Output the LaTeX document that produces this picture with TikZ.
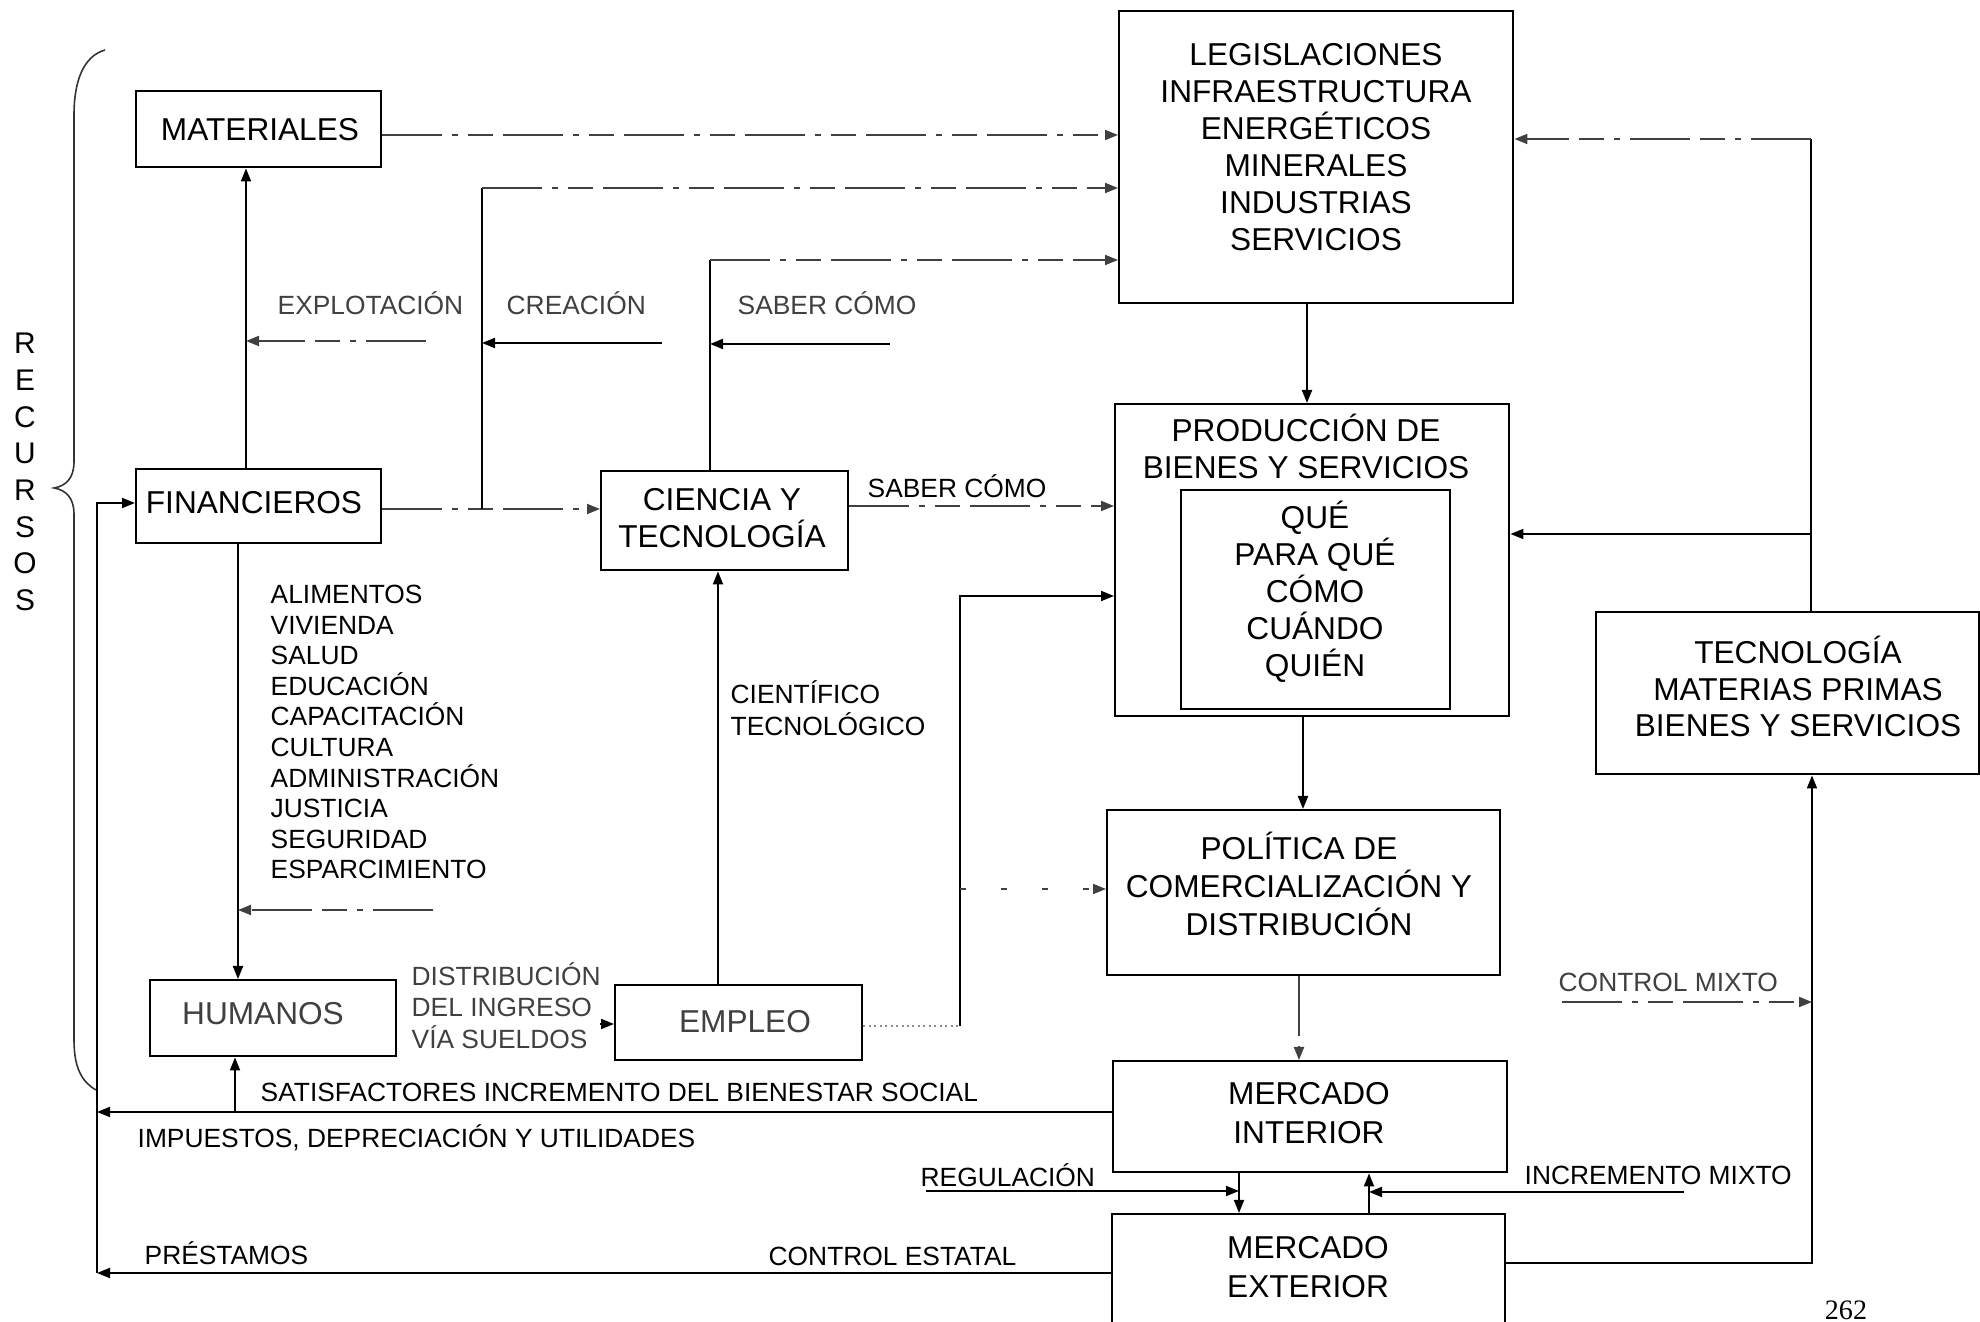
\documentclass[tikz,border=0pt]{standalone}
\usepackage{fontspec}
\setmainfont{Liberation Sans}
\newfontfamily\pagenumfont{Liberation Serif}
\usetikzlibrary{arrows.meta}
\begin{document}
\begin{tikzpicture}[x=0.1mm,y=-0.1mm,
  box/.style={draw, line width=0.7pt, inner sep=0pt, anchor=north west},
  btxt/.style={inner sep=0pt, align=center, font={\fontsize{9}{10.5}\selectfont}},
  lbl/.style={inner sep=0pt, anchor=west, font={\fontsize{7.5}{8.7}\selectfont}},
  lst/.style={inner sep=0pt, anchor=north west, align=left, font={\fontsize{7.5}{8.7}\selectfont}},
  ln/.style={draw, line width=0.55pt},
  arr/.style={ln, -{Triangle[length=1.3mm,width=1mm]}},
  fd/.style={draw=black!75, dash pattern=on 6mm off 1mm on 0.6mm off 1mm on 2.5mm off 1mm},
  dim/.style={text=black!75},
]
\useasboundingbox (0,0) rectangle (1980,1322);
\fill[white] (0,0) rectangle (1980,1322);
\clip (0,0) rectangle (1980,1322);

% ---------- boxes ----------
\node[box, minimum width=24.5mm, minimum height=7.6mm] (mat) at (135,90) {};
\node[box, minimum width=24.5mm, minimum height=7.4mm] (fin) at (135,468) {};
\node[box, minimum width=24.7mm, minimum height=9.9mm] (cyt) at (600,470) {};
\node[box, minimum width=39.4mm, minimum height=29.2mm] (leg) at (1118,10) {};
\node[box, minimum width=39.4mm, minimum height=31.2mm] (prod) at (1114,403) {};
\node[box, minimum width=26.9mm, minimum height=21.9mm] (qbox) at (1180,489) {};
\node[box, minimum width=39.3mm, minimum height=16.5mm] (pol) at (1106,809) {};
\node[box, minimum width=38.3mm, minimum height=16.2mm] (tec) at (1595,611) {};
\node[box, minimum width=39.4mm, minimum height=11.1mm] (mint) at (1112,1060) {};
\node[box, minimum width=39.3mm, minimum height=14mm] (mext) at (1111,1213) {};
\node[box, minimum width=24.6mm, minimum height=7.6mm] (hum) at (149,979) {};
\node[box, minimum width=24.7mm, minimum height=7.5mm] (emp) at (614,984) {};

% ---------- box texts ----------
\node[btxt] (tmat) at (260,130) {MATERIALES};
\node[btxt] (tfin) at (254,503) {FINANCIEROS};
\node[btxt] (tcyt) at (722,518) {CIENCIA Y\\TECNOLOGÍA};
\node[btxt] (tleg) at (1316,147) {LEGISLACIONES\\INFRAESTRUCTURA\\ENERGÉTICOS\\MINERALES\\INDUSTRIAS\\SERVICIOS};
\node[btxt] (tprod) at (1306,446.5) {PRODUCCIÓN DE\\BIENES Y SERVICIOS};
\node[btxt] (tq) at (1315,592) {QUÉ\\PARA QUÉ\\CÓMO\\CUÁNDO\\QUIÉN};
\node[btxt, font={\fontsize{9}{10.8}\selectfont}] (tpol) at (1299,884) {POLÍTICA DE\\COMERCIALIZACIÓN Y\\DISTRIBUCIÓN};
\node[btxt, font={\fontsize{9}{10.4}\selectfont}] (ttec) at (1798,686.5) {TECNOLOGÍA\\MATERIAS PRIMAS\\BIENES Y SERVICIOS};
\node[btxt, font={\fontsize{9}{11.1}\selectfont}] (tmint) at (1309,1113.5) {MERCADO\\INTERIOR};
\node[btxt, font={\fontsize{9}{11.1}\selectfont}] (tmext) at (1308,1267.5) {MERCADO\\EXTERIOR};
\node[btxt, dim] (thum) at (263,1014) {HUMANOS};
\node[btxt, dim] (temp) at (745,1022) {EMPLEO};

% ---------- RECURSOS and brace ----------
\node[inner sep=0pt, align=center, font={\fontsize{8.5}{10.45}\selectfont}] (rec) at (25,472) {R\\E\\C\\U\\R\\S\\O\\S};
\draw[line width=0.45pt, black!80] (105,50) .. controls (84,56) and (74,80) .. (74,115) -- (74,462)
  .. controls (74,478) and (66,486) .. (54,488) .. controls (66,490) and (74,498) .. (74,514)
  -- (74,1040) .. controls (74,1068) and (82,1082) .. (96,1090);

% ---------- labels ----------
\node[lbl,dim] (lexp) at (277,303) {EXPLOTACIÓN};
\node[lbl,dim] (lcre) at (506,303) {CREACIÓN};
\node[lbl,dim] (lsab1) at (737,303) {SABER CÓMO};
\node[lbl] (lsab2) at (867,486) {SABER CÓMO};
\node[lst] (lali) at (270,584.5) {ALIMENTOS\\VIVIENDA\\SALUD\\EDUCACIÓN\\CAPACITACIÓN\\CULTURA\\ADMINISTRACIÓN\\JUSTICIA\\SEGURIDAD\\ESPARCIMIENTO};
\node[lbl, align=left, font={\fontsize{7.5}{9.1}\selectfont}] (lcie) at (730,708) {CIENTÍFICO\\TECNOLÓGICO};
\node[lbl, dim, align=left, font={\fontsize{7.5}{8.96}\selectfont}] (ldis) at (411,1005.5) {DISTRIBUCIÓN\\DEL INGRESO\\VÍA SUELDOS};
\node[lbl] (lsat) at (260,1092) {SATISFACTORES INCREMENTO DEL BIENESTAR SOCIAL};
\node[lbl] (limp) at (137,1138) {IMPUESTOS, DEPRECIACIÓN Y UTILIDADES};
\node[lbl] (lreg) at (920,1175) {REGULACIÓN};
\node[lbl] (linc) at (1524,1175) {INCREMENTO MIXTO};
\node[lbl,dim] (lcm) at (1558,982) {CONTROL MIXTO};
\node[lbl] (lpre) at (144,1253) {PRÉSTAMOS};
\node[lbl] (lce) at (768,1256) {CONTROL ESTATAL};
\node[inner sep=0pt, font={\pagenumfont\fontsize{8}{9}\selectfont}] (pg) at (1846,1310) {262};

% ---------- connectors ----------
\coordinate (jc) at (482,509);
\coordinate (ct) at (482,188);
\draw[arr,fd] (fin.east |- jc) -- (cyt.west |- jc);
\draw[ln] (jc) -- (ct);
\draw[arr,fd] (ct) -- (leg.west |- ct);

\coordinate (m1) at (0,135);
\draw[arr,fd] (mat.east |- m1) -- (leg.west |- m1);

\coordinate (sc) at (710,260);
\draw[ln] (cyt.north -| sc) -- (sc);
\draw[arr,fd] (sc) -- (leg.west |- sc);

\coordinate (fm) at (246,300);
\draw[arr] (fin.north -| fm) -- (mat.south -| fm);
\coordinate (e1) at (426,341);
\draw[arr,fd] (e1) -- (e1 -| fm);
\coordinate (c1) at (662,343);
\draw[arr] (c1) -- (c1 -| jc);
\coordinate (s1) at (890,344);
\draw[arr] (s1) -- (s1 -| sc);

\coordinate (tr) at (1811,139);
\coordinate (tb) at (1811,534);
\draw[ln] (tec.north -| tr) -- (tr);
\draw[arr,fd] (tr) -- (leg.east |- tr);
\draw[arr] (tb) -- (prod.east |- tb);

\coordinate (lp) at (1307,350);
\draw[arr] (leg.south -| lp) -- (prod.north -| lp);
\coordinate (cp) at (0,506);
\draw[arr,fd] (cyt.east |- cp) -- (prod.west |- cp);

\coordinate (ev) at (960,1026);
\coordinate (ep) at (960,596);
\coordinate (eb) at (960,889);
\draw[ln, densely dotted, black!45] (emp.east |- ev) -- (ev);
\draw[arr] (ev) -- (ep) -- (prod.west |- ep);
\draw[arr, draw=black!75, dash pattern=on 0.6mm off 3.5mm] (eb) -- (pol.west |- eb);

\coordinate (pp) at (1303,760);
\draw[arr] (prod.south -| pp) -- (pol.north -| pp);
\coordinate (pm) at (1299,1010);
\draw[arr,fd] (pol.south -| pm) -- (mint.north -| pm);

\coordinate (xd) at (1239,1191);
\coordinate (xu) at (1369,1192);
\draw[arr] (mint.south -| xd) -- (mext.north -| xd);
\draw[arr] (mext.north -| xu) -- (mint.south -| xu);
\coordinate (r1) at (926,1191);
\draw[arr] (r1) -- (r1 -| xd);
\coordinate (i1) at (1684,1192);
\draw[arr] (i1) -- (i1 -| xu);

\coordinate (xr) at (1812,1263);
\draw[arr] (mext.east |- xr) -- (xr) -- (tec.south -| xr);
\coordinate (cm) at (1562,1002);
\draw[arr,fd] (cm) -- (cm -| xr);

\coordinate (xl) at (97,1112);
\draw[arr] (mint.west |- xl) -- (xl);
\coordinate (hu) at (235,1112);
\draw[arr] (hu) -- (hum.south -| hu);
\coordinate (xb) at (97,1273);
\draw[arr] (mext.west |- xb) -- (xb);
\coordinate (xt) at (97,503);
\draw[arr] (xb) -- (xt) -- (fin.west |- xt);

\coordinate (fh) at (238,700);
\draw[arr] (fin.south -| fh) -- (hum.north -| fh);
\coordinate (a1) at (433,910);
\draw[arr,fd] (a1) -- (a1 -| fh);
\coordinate (he) at (600,1024);
\draw[arr] (he) -- (emp.west |- he);
\coordinate (ec) at (718,800);
\draw[arr] (emp.north -| ec) -- (cyt.south -| ec);
\end{tikzpicture}
\end{document}
